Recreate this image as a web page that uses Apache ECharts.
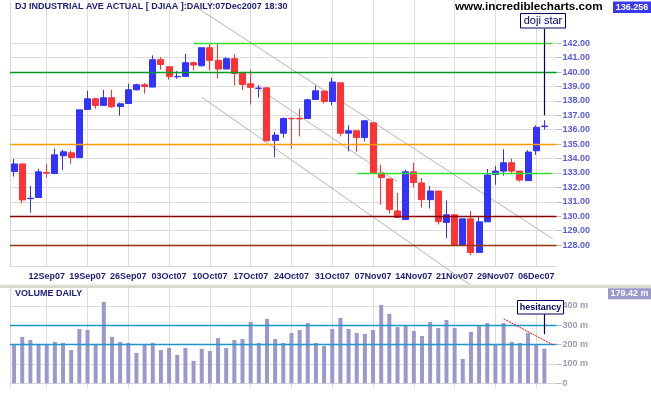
<!DOCTYPE html>
<html><head><meta charset="utf-8">
<script src="https://cdn.jsdelivr.net/npm/echarts@6/dist/echarts.min.js"></script>
<style>html,body{margin:0;padding:0;background:#fff}#c{width:651px;height:395px}</style>
</head><body><div id="c"></div>
<script>
// ---- data ----
const dates = ['06Sep07','07Sep07','10Sep07','11Sep07','12Sep07','13Sep07','14Sep07','17Sep07','18Sep07','19Sep07','20Sep07','21Sep07','24Sep07','25Sep07','26Sep07','27Sep07','28Sep07',
'01Oct07','02Oct07','03Oct07','04Oct07','05Oct07','08Oct07','09Oct07','10Oct07','11Oct07','12Oct07','15Oct07','16Oct07','17Oct07','18Oct07','19Oct07','22Oct07','23Oct07','24Oct07','25Oct07','26Oct07','29Oct07','30Oct07','31Oct07',
'01Nov07','02Nov07','05Nov07','06Nov07','07Nov07','08Nov07','09Nov07','12Nov07','13Nov07','14Nov07','15Nov07','16Nov07','19Nov07','20Nov07','21Nov07','23Nov07','26Nov07','27Nov07','28Nov07','29Nov07','30Nov07',
'03Dec07','04Dec07','05Dec07','06Dec07','07Dec07'];
const opens  = [133.10,133.63,131.22,131.30,133.03,132.96,134.19,134.40,134.07,137.41,138.15,137.69,138.22,137.62,137.82,138.77,139.12,
138.96,140.86,140.37,139.68,139.70,140.65,140.44,141.69,140.81,140.21,140.93,139.91,139.19,138.87,138.91,135.25,135.76,136.78,136.78,136.78,138.10,138.68,137.96,
139.26,135.76,135.93,135.46,136.48,132.99,132.59,130.37,129.77,133.08,132.31,131.15,131.75,129.57,130.10,128.00,129.82,127.49,129.61,132.90,133.13,
133.71,133.13,132.47,134.54,136.22];
const closes = [133.63,131.13,131.25,133.08,132.99,134.26,134.47,134.07,137.38,138.15,137.69,138.22,137.59,137.80,138.77,139.12,139.00,
140.86,140.53,139.70,139.70,140.65,140.49,141.69,140.81,140.21,140.93,139.91,139.14,138.94,138.89,135.23,135.63,136.78,136.76,136.75,138.08,138.70,137.96,139.31,
135.76,135.93,135.46,136.62,133.03,132.69,130.46,129.91,133.08,132.34,131.15,131.75,129.63,130.10,128.00,129.82,127.49,129.61,132.86,133.13,133.71,
133.13,132.51,134.45,136.17,136.256];
const lows   = [132.75,130.88,130.25,131.28,132.69,132.95,133.22,133.63,134.07,137.41,137.45,137.69,137.52,136.97,137.82,138.73,138.50,
138.96,140.16,139.47,139.54,139.70,140.12,140.39,140.12,139.56,140.21,139.07,138.77,137.75,138.24,135.23,134.10,135.46,134.68,135.53,136.78,138.10,137.82,137.69,
135.53,134.49,134.47,135.19,133.03,130.79,130.19,129.91,129.77,131.99,130.60,130.53,129.43,128.46,127.91,128.00,127.29,127.49,129.61,132.19,132.81,
132.97,132.40,132.47,134.26,136.01];
const highs  = [133.98,133.65,132.11,133.29,133.63,134.68,134.61,134.54,137.38,138.70,138.22,138.77,138.77,137.89,139.19,139.19,139.24,
141.16,141.04,140.37,140.07,141.27,140.74,141.69,142.01,142.01,141.04,141.23,139.91,140.16,139.10,138.91,135.86,136.85,136.85,137.45,138.15,139.07,138.68,139.61,
139.26,136.32,135.93,136.69,136.48,133.56,132.59,131.62,133.22,133.70,132.65,132.10,131.75,131.09,130.10,129.82,130.37,129.98,133.27,133.48,134.65,
134.01,133.13,134.59,136.31,136.66];
const volumes = [203,240,224,203,202,214,209,172,281,276,203,421,240,214,209,157,203,209,172,183,147,183,116,178,167,234,183,224,229,317,209,333,229,209,260,276,312,209,193,
281,338,281,260,255,276,405,359,291,300,271,245,317,286,328,286,126,266,300,312,203,312,214,209,260,198,179.42];
const priceTicks = [128,129,130,131,132,133,134,135,136,137,138,139,140,141,142];
const volumeTicks = [0,100,200,300,400];
const lastPrice = '136.256';
const lastVolume = '179.42 m';
// horizontal price levels: [level, first category index or null for full width]
const priceLevels = [[142,22],[140,null],[135,null],[133,42],[130,null],[128,null]];
const volumeLevels = [300,200];
// trend channel lines: [categoryIndex, price]
const channelUpper = [[22,144.62],[66,128.45]];
const channelMiddle = [[30,138.84],[47,132.39]];
const channelLower = [[23,138.26],[56,125.20]];
// volume "hesitancy" trend: [categoryIndex, volume]
const volumeTrend = [[60,334],[66,200]];
const dojiPointer = [[65,143.0],[65,137.0]];
const hesitancyPointer = [[65,358],[65,254]];

// ---- styles ----
const FONT = '"Liberation Sans", Arial, sans-serif';
const NAVY = '#1c1c78';
const levelColors = ['#33dd33','#009922','#ff9900','#33dd33','#880000','#993300'];
const categories = dates.concat(['']);
const labelEvery = (i) => i >= 4 && i < dates.length && (i - 4) % 5 === 0;

const chart = echarts.init(document.getElementById('c'), null, {renderer:'canvas', devicePixelRatio:1});

const levelData = priceLevels.map((lv, k) => {
  const ls = {color: levelColors[k], width: 1.3, type: 'solid'};
  if (lv[1] === null) return {yAxis: lv[0], lineStyle: ls};
  return [{coord: [lv[1], lv[0]], lineStyle: ls}, {coord: [dates.length, lv[0]]}];
});

const option = {
  animation: false,
  backgroundColor: '#ffffff',
  grid: [
    {left: 10, top: 0, width: 546.6, height: 266.7, containLabel: false},
    {left: 10, top: 288, width: 546.6, height: 98.7, containLabel: false}
  ],
  xAxis: [
    {type: 'category', gridIndex: 0, data: categories, boundaryGap: true,
     axisLine: {show: true, lineStyle: {color: '#d8d8d8'}},
     axisTick: {show: false},
     axisLabel: {interval: labelEvery, color: NAVY, fontSize: 9, fontWeight: 'bold', fontFamily: FONT, margin: 5},
     splitLine: {show: true, interval: labelEvery, alignWithLabel: true, lineStyle: {color: '#dddddd', width: 1}}},
    {type: 'category', gridIndex: 1, data: categories, boundaryGap: true,
     axisLine: {show: true, lineStyle: {color: '#d8d8d8'}},
     axisTick: {show: true, interval: labelEvery, alignWithLabel: true, length: 5, lineStyle: {color: '#dddddd'}},
     axisLabel: {show: false},
     splitLine: {show: true, interval: labelEvery, alignWithLabel: true, lineStyle: {color: '#dddddd', width: 1}}}
  ],
  yAxis: [
    {type: 'value', gridIndex: 0, position: 'right', min: 126.5, max: 145,
     axisLine: {show: false},
     axisTick: {show: true, customValues: priceTicks, length: 5, lineStyle: {color: '#b8b8c8'}},
     axisLabel: {customValues: priceTicks, formatter: v => Number(v).toFixed(2), margin: 6,
                 color: '#5a5ae0', fontSize: 9, fontWeight: 'bold', fontFamily: FONT},
     splitLine: {show: true, lineStyle: {color: '#dddddd', width: 1}}},
    {type: 'value', gridIndex: 0, position: 'left', min: 126.5, max: 145,
     axisLine: {show: true, lineStyle: {color: '#d8d8d8'}}, axisTick: {show: false},
     axisLabel: {show: false}, splitLine: {show: false}},
    {type: 'value', gridIndex: 1, position: 'right', min: -17.6, max: 493,
     axisLine: {show: false},
     axisTick: {show: true, customValues: volumeTicks, length: 5, lineStyle: {color: '#b8b8c8'}},
     axisLabel: {customValues: volumeTicks, formatter: v => (v === 0 ? '0' : v + ' m'), margin: 6,
                 color: '#9c9cae', fontSize: 9, fontWeight: 'bold', fontFamily: FONT},
     splitLine: {show: true, lineStyle: {color: ['rgba(0,0,0,0)', '#dddddd', '#dddddd', '#dddddd', '#dddddd'], width: 1}}},
    {type: 'value', gridIndex: 1, position: 'left', min: -17.6, max: 493,
     axisLine: {show: true, lineStyle: {color: '#d8d8d8'}}, axisTick: {show: false},
     axisLabel: {show: false}, splitLine: {show: false}}
  ],
  series: [
    {type: 'line', name: 'upper', xAxisIndex: 0, yAxisIndex: 0, data: channelUpper, clip: false, z: 1,
     symbol: 'none', silent: true, lineStyle: {color: '#b4b4b4', width: 1},
     markLine: {symbol: ['none','none'], silent: true, label: {show: false}, animation: false, data: levelData}},
    {type: 'line', name: 'middle', xAxisIndex: 0, yAxisIndex: 0, data: channelMiddle, clip: false, z: 1,
     symbol: 'none', silent: true, lineStyle: {color: '#b4b4b4', width: 1}},
    {type: 'line', name: 'lower', xAxisIndex: 0, yAxisIndex: 0, data: channelLower, clip: false, z: 1,
     symbol: 'none', silent: true, lineStyle: {color: '#b4b4b4', width: 1}},
    {type: 'candlestick', name: 'DJIAA', xAxisIndex: 0, yAxisIndex: 0, z: 3, barWidth: 6.5,
     data: dates.map((d, i) => [opens[i], closes[i], lows[i], highs[i]]),
     itemStyle: {color: '#3333ff', color0: '#ff3333', borderColor: '#3333ff', borderColor0: '#ff3333', borderWidth: 1},
     markLine: {symbol: ['none','none'], silent: true, label: {show: false}, animation: false,
       data: [[{coord: dojiPointer[0], lineStyle: {color: '#000066', width: 1.2, type: 'solid'}}, {coord: dojiPointer[1]}]]}},
    {type: 'line', name: 'volLevels', xAxisIndex: 1, yAxisIndex: 2, data: [], z: 1, silent: true,
     markLine: {symbol: ['none','none'], silent: true, label: {show: false}, animation: false,
       data: volumeLevels.map(v => ({yAxis: v, lineStyle: {color: '#1e96cc', width: 1.3, type: 'solid'}}))}},
    {type: 'bar', name: 'Volume', xAxisIndex: 1, yAxisIndex: 2, z: 3, barWidth: 4,
     data: volumes, itemStyle: {color: '#9999cc'},
     markLine: {symbol: ['none','none'], silent: true, label: {show: false}, animation: false,
       data: [
         [{coord: volumeTrend[0], lineStyle: {color: '#ff0000', width: 1, type: [2, 1]}}, {coord: volumeTrend[1]}],
         [{coord: hesitancyPointer[0], lineStyle: {color: '#000066', width: 1.2, type: 'solid'}}, {coord: hesitancyPointer[1]}]
       ]}}
  ],
  graphic: [
    {type: 'rect', z: 50, silent: true, shape: {x: 0, y: 284.5, width: 651, height: 2}, style: {fill: '#e4e0d4'}},
    {type: 'rect', z: 50, silent: true, shape: {x: 0, y: 286.5, width: 651, height: 1}, style: {fill: '#b8b4a8'}},
    {type: 'text', z: 60, silent: true, x: 15, y: 6.3,
     style: {text: 'DJ INDUSTRIAL AVE ACTUAL [ DJIAA ]:DAILY:07Dec2007 18:30', fill: NAVY,
             font: 'bold 9px ' + FONT, verticalAlign: 'middle', align: 'left'}},
    {type: 'text', z: 60, silent: true, x: 455, y: 6.8,
     style: {text: 'www.incrediblecharts.com', fill: '#000000', font: 'bold 11.7px ' + FONT, verticalAlign: 'middle', align: 'left'}},
    {type: 'rect', z: 60, silent: true, shape: {x: 613, y: 1.5, width: 38, height: 11.5}, style: {fill: '#3838f0'}},
    {type: 'text', z: 61, silent: true, x: 632, y: 7.4,
     style: {text: lastPrice, fill: '#ffffff', font: 'bold 9px ' + FONT, verticalAlign: 'middle', align: 'center'}},
    {type: 'rect', z: 60, silent: true, shape: {x: 520.5, y: 13.5, width: 45, height: 14.5}, style: {fill: '#ffffff', stroke: '#000066', lineWidth: 1}},
    {type: 'text', z: 61, silent: true, x: 543, y: 20.8,
     style: {text: 'doji star', fill: '#000066', font: '11px ' + FONT, verticalAlign: 'middle', align: 'center'}},
    {type: 'text', z: 60, silent: true, x: 15, y: 293.6,
     style: {text: 'VOLUME DAILY', fill: NAVY, font: 'bold 9px ' + FONT, verticalAlign: 'middle', align: 'left'}},
    {type: 'rect', z: 60, silent: true, shape: {x: 608, y: 288.3, width: 43, height: 11}, style: {fill: '#9999cc'}},
    {type: 'text', z: 61, silent: true, x: 629.5, y: 294,
     style: {text: lastVolume, fill: '#ffffff', font: 'bold 9px ' + FONT, verticalAlign: 'middle', align: 'center'}},
    {type: 'rect', z: 60, silent: true, shape: {x: 517.5, y: 300.5, width: 46, height: 13.5}, style: {fill: '#ffffff', stroke: '#000066', lineWidth: 1}},
    {type: 'text', z: 61, silent: true, x: 540.5, y: 307.5,
     style: {text: 'hesitancy', fill: '#000066', font: 'bold 9px ' + FONT, verticalAlign: 'middle', align: 'center'}}
  ]
};
chart.setOption(option);
</script></body></html>
